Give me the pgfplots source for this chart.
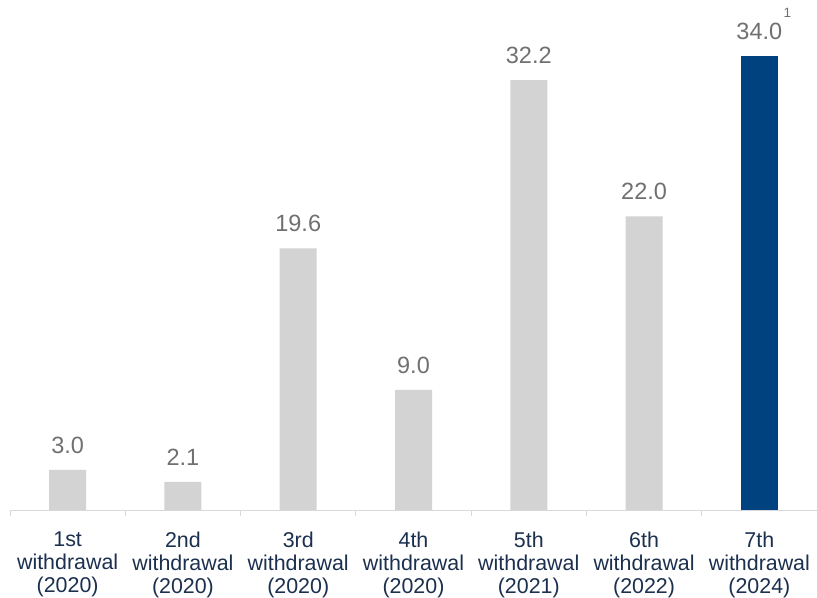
\documentclass[border=0pt]{standalone}
\usepackage{pgfplots}
\pgfplotsset{compat=1.18}
\usepackage{fontspec}
\setmainfont{Liberation Sans}
\definecolor{barGray}{HTML}{D3D3D3}
\definecolor{barBlue}{HTML}{00427F}
\definecolor{valGray}{HTML}{707070}
\definecolor{lblNavy}{HTML}{1B2F4E}
\definecolor{axGray}{HTML}{D9D9D9}
\begin{document}
\begin{tikzpicture}
\begin{axis}[
  scale only axis, width=807pt, height=510pt,
  xmin=-0.5, xmax=6.5, ymin=0, ymax=38.2,
  clip=false,
  axis x line*=bottom, axis y line=none,
  x axis line style={axGray, line width=1pt, -},
  xtick={0,...,6},
  xticklabels={{1st\\withdrawal\\(2020)},{2nd\\withdrawal\\(2020)},{3rd\\withdrawal\\(2020)},{4th\\withdrawal\\(2020)},{5th\\withdrawal\\(2021)},{6th\\withdrawal\\(2022)},{7th\\withdrawal\\(2024)}},
  major tick length=0pt,
  minor xtick={-0.5,0.5,...,6.5},
  minor tick length=6pt, tick align=outside,
  minor tick style={axGray, line width=1pt},
  xticklabel style={align=center, font=\fontsize{21.4}{23}\selectfont, text=lblNavy, yshift=-18pt},
  ytick=\empty,
  ybar, bar width=37pt, bar shift=0pt,
  nodes near coords,
  point meta=explicit symbolic,
  every node near coord/.append style={font=\fontsize{23.5}{26}\selectfont, text=valGray, anchor=south, yshift=13pt},
]
\addplot[fill=barGray, draw=none] coordinates {
  (0,3.0) [3.0]
  (1,2.1) [2.1]
  (2,19.6) [19.6]
  (3,9.0) [9.0]
  (4,32.2) [32.2]
  (5,22.0) [22.0]
};
\addplot[fill=barBlue, draw=none] coordinates {
  (6,34.0) [34.0\rlap{\hspace{1.5pt}\raisebox{22pt}{\fontsize{13.5}{14}\selectfont 1}}]
};
\end{axis}
\pgfresetboundingbox
\path ([xshift=-10pt,yshift=-87pt]current axis.south west) rectangle (current axis.north east);
\end{tikzpicture}
\end{document}
